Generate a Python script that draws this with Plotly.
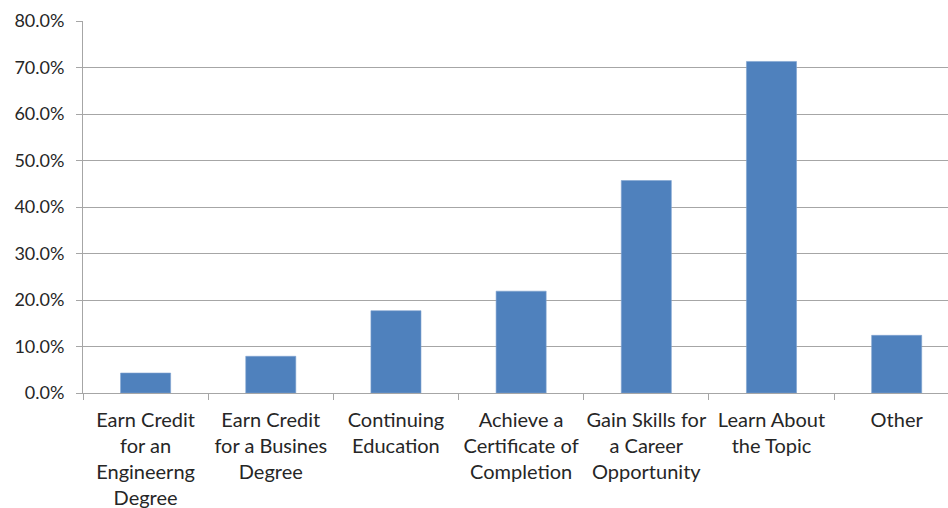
import plotly.graph_objects as go

categories = ["Engineering Credit", "Business Credit", "Continuing Education",
              "Certificate", "Career Skills", "Learn Topic", "Other"]
tick_labels = ["Earn Credit<br>for an<br>Engineerng<br>Degree",
               "Earn Credit<br>for a Busines<br>Degree",
               "Continuing<br>Education",
               "Achieve a<br>Certificate of<br>Completion",
               "Gain Skills for<br>a Career<br>Opportunity",
               "Learn About<br>the Topic",
               "Other"]
values = [0.043, 0.079, 0.177, 0.219, 0.457, 0.713, 0.124]
y_ticks = [0, 0.1, 0.2, 0.3, 0.4, 0.5, 0.6, 0.7, 0.8]

FONT = "Lato"
TXT = "#262626"
GRID = "#A6A6A6"

fig = go.Figure(go.Bar(
    x=categories, y=values,
    marker=dict(color="#4F81BD", line=dict(color="#7FA3D0", width=0.6)),
))

fig.update_layout(
    width=948, height=508,
    margin=dict(l=83, r=0, t=21, b=115),
    paper_bgcolor="white", plot_bgcolor="white",
    bargap=0.6,
    showlegend=False,
    font=dict(family=FONT, size=18, color=TXT),
)
fig.update_xaxes(
    type="category",
    range=[-0.5, 6.41],
    tickmode="array", tickvals=categories, ticktext=tick_labels,
    tickson="boundaries",
    ticks="outside", ticklen=6, tickcolor=GRID, tickwidth=1,
    showline=True, linecolor=GRID, linewidth=1,
    showgrid=False,
    tickangle=0,
    ticklabelstandoff=9,
    tickfont=dict(family=FONT, size=20, color=TXT),
)
fig.update_yaxes(
    range=[0, 0.8],
    tickmode="array", tickvals=y_ticks,
    tickformat=".1%",
    ticks="outside", ticklen=6, tickcolor=GRID, tickwidth=1,
    showline=True, linecolor=GRID, linewidth=1,
    showgrid=True, gridcolor=GRID, gridwidth=1,
    zeroline=False,
    ticklabelstandoff=8,
    tickfont=dict(family=FONT, size=18, color=TXT),
)

fig.write_html("out.html")
